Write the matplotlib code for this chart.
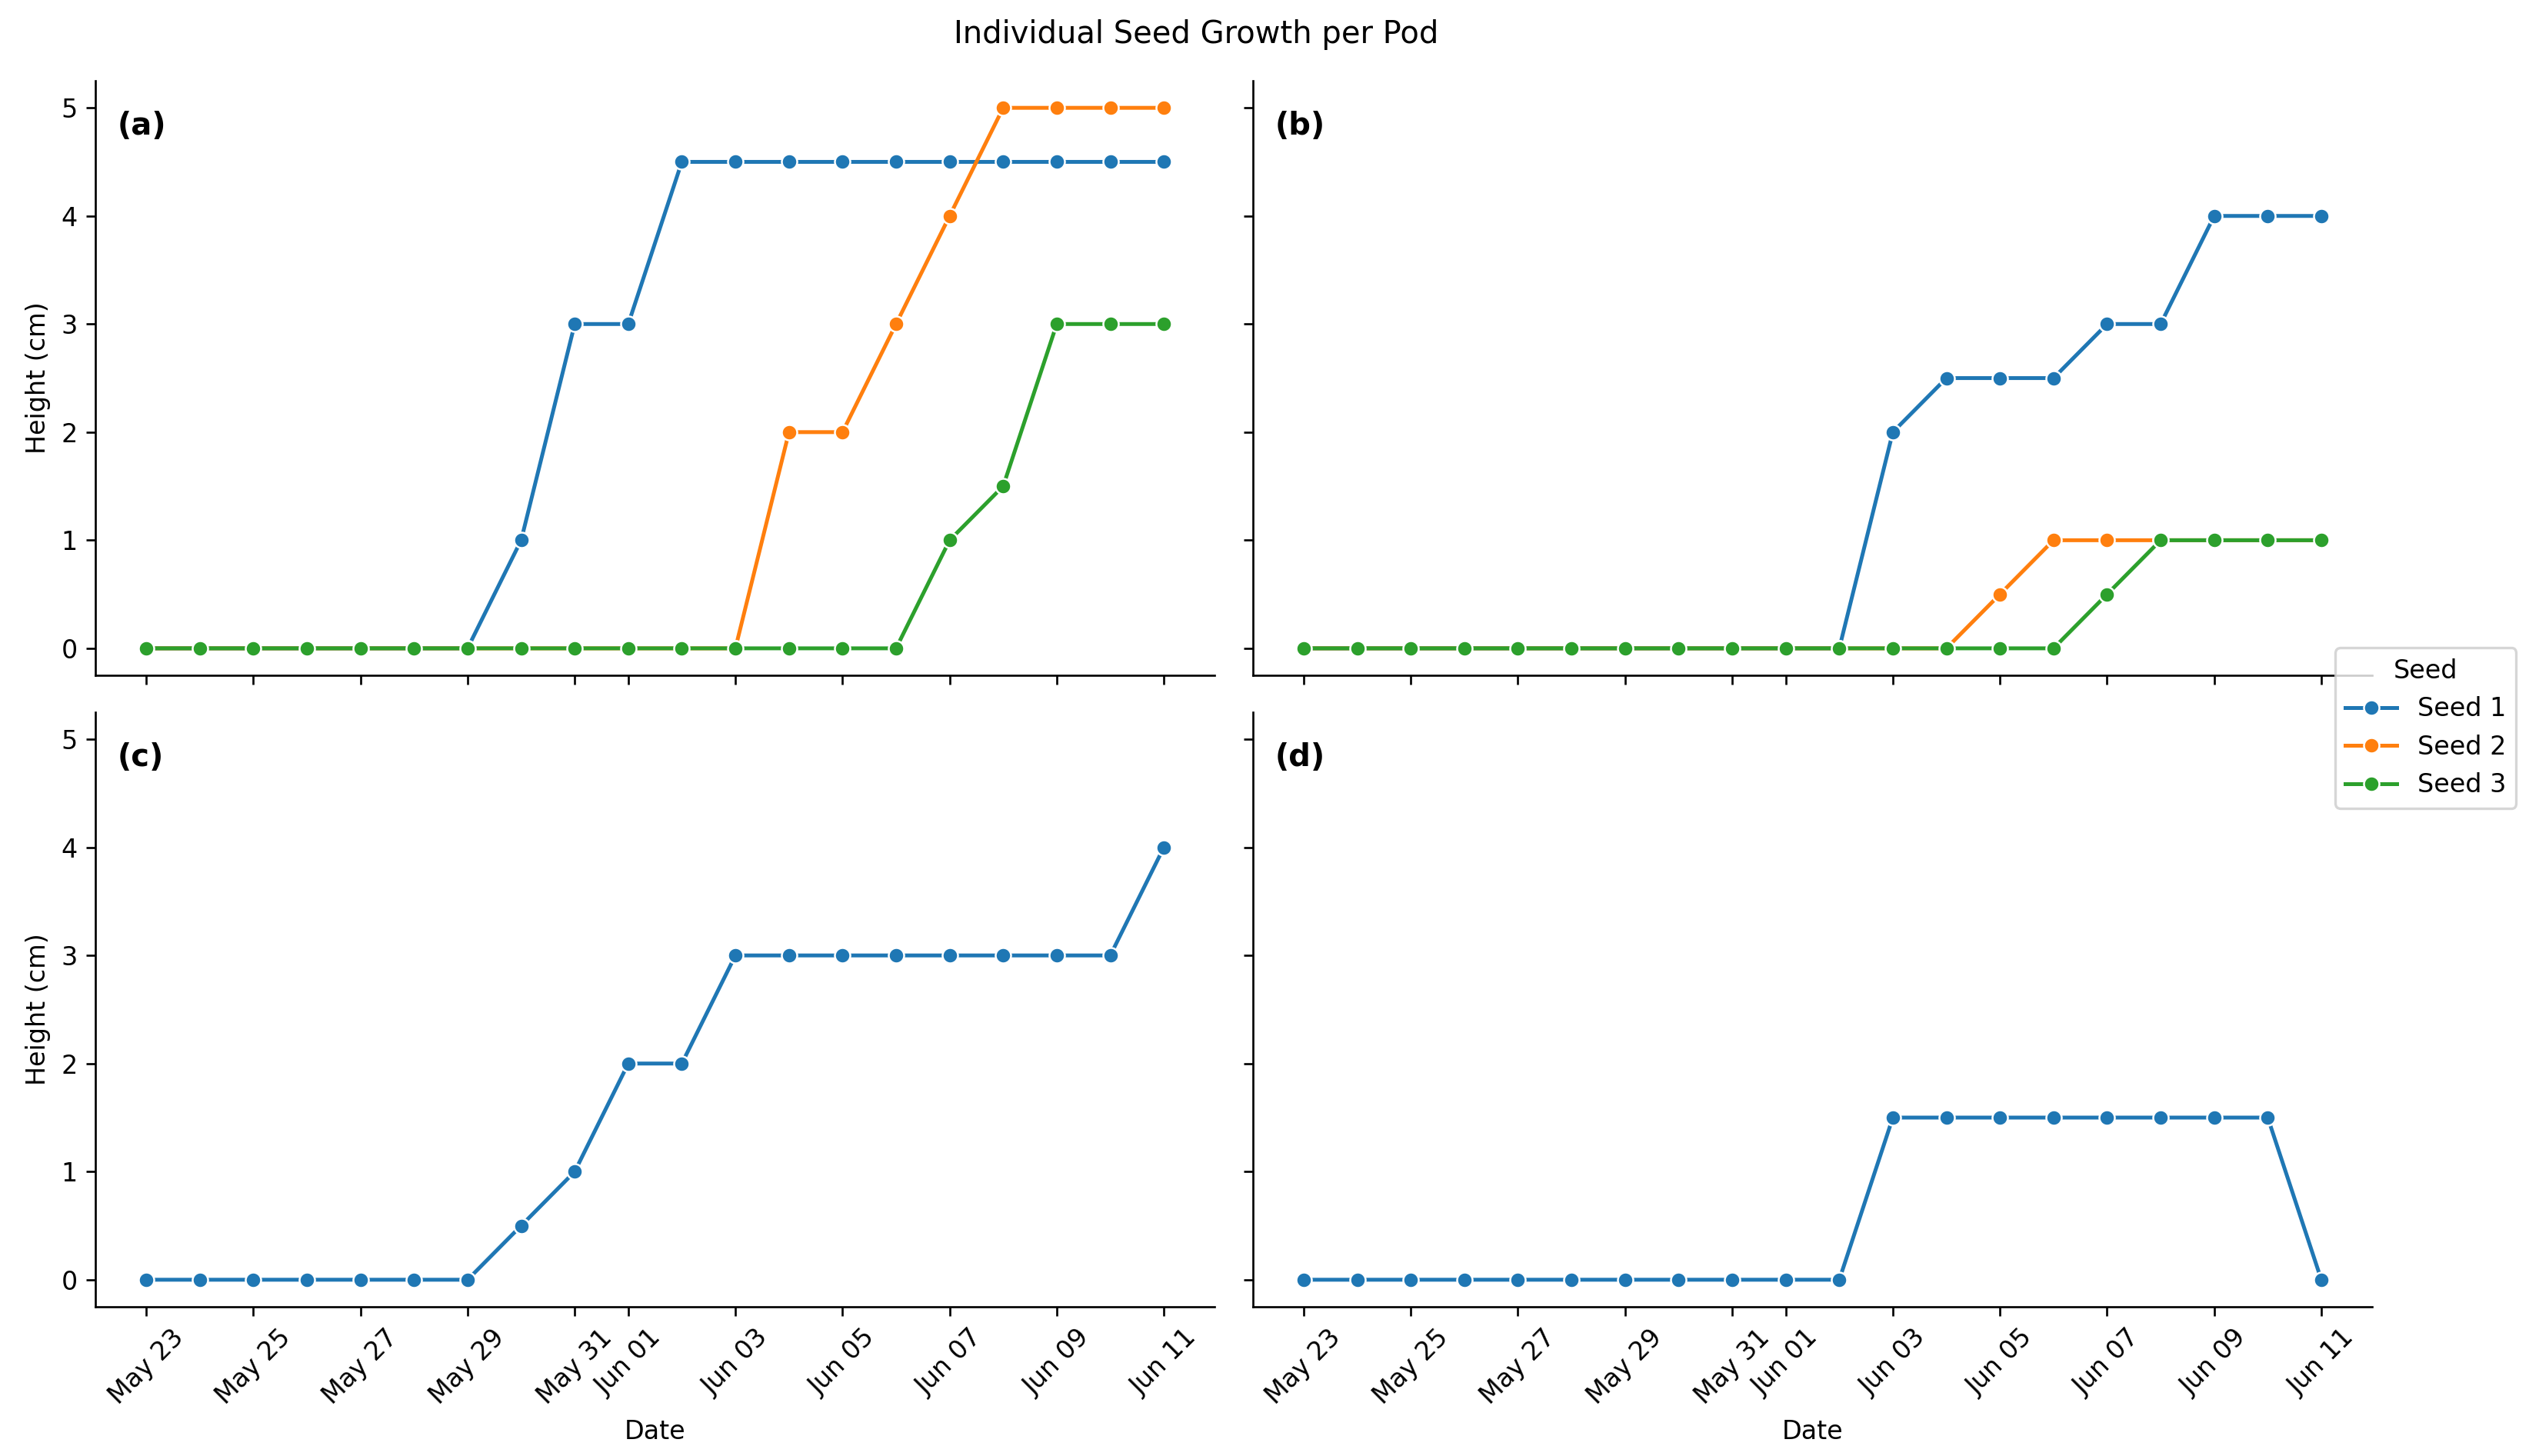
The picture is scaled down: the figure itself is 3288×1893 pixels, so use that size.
import matplotlib
matplotlib.use("Agg")
import matplotlib.pyplot as plt
import matplotlib.dates as mdates
import numpy as np
import pandas as pd

dates = pd.date_range("2024-05-23", "2024-06-11", freq="D")

# heights per pod, one list per seed (cm)
pod_a_seed1 = [0, 0, 0, 0, 0, 0, 0, 1, 3, 3, 4.5, 4.5, 4.5, 4.5, 4.5, 4.5, 4.5, 4.5, 4.5, 4.5]
pod_a_seed2 = [0, 0, 0, 0, 0, 0, 0, 0, 0, 0, 0, 0, 2, 2, 3, 4, 5, 5, 5, 5]
pod_a_seed3 = [0, 0, 0, 0, 0, 0, 0, 0, 0, 0, 0, 0, 0, 0, 0, 1, 1.5, 3, 3, 3]

pod_b_seed1 = [0, 0, 0, 0, 0, 0, 0, 0, 0, 0, 0, 2, 2.5, 2.5, 2.5, 3, 3, 4, 4, 4]
pod_b_seed2 = [0, 0, 0, 0, 0, 0, 0, 0, 0, 0, 0, 0, 0, 0.5, 1, 1, 1, 1, 1, 1]
pod_b_seed3 = [0, 0, 0, 0, 0, 0, 0, 0, 0, 0, 0, 0, 0, 0, 0, 0.5, 1, 1, 1, 1]

pod_c_seed1 = [0, 0, 0, 0, 0, 0, 0, 0.5, 1, 2, 2, 3, 3, 3, 3, 3, 3, 3, 3, 4]

pod_d_seed1 = [0, 0, 0, 0, 0, 0, 0, 0, 0, 0, 0, 1.5, 1.5, 1.5, 1.5, 1.5, 1.5, 1.5, 1.5, 0]

panels = [
    ("(a)", [pod_a_seed1, pod_a_seed2, pod_a_seed3]),
    ("(b)", [pod_b_seed1, pod_b_seed2, pod_b_seed3]),
    ("(c)", [pod_c_seed1]),
    ("(d)", [pod_d_seed1]),
]
seed_names = ["Seed 1", "Seed 2", "Seed 3"]
colors = ["#1f77b4", "#ff7f0e", "#2ca02c"]

fig, axes = plt.subplots(2, 2, figsize=(13.7, 7.8875), dpi=240, sharex=True, sharey=True)
fig.subplots_adjust(left=0.0377, right=0.938, top=0.9445, bottom=0.1025,
                    wspace=0.034, hspace=0.062)

for ax, (label, series) in zip(axes.flat, panels):
    for i, vals in enumerate(series):
        ax.plot(dates, vals, color=colors[i], marker="o", markersize=6,
                markeredgecolor="white", markeredgewidth=0.75, linewidth=1.5,
                label=seed_names[i])
    ax.text(0.02, 0.95, label, transform=ax.transAxes, fontsize=12,
            fontweight="bold", va="top", ha="left")
    for pos in ["top", "right"]:
        ax.spines[pos].set_visible(False)

axes[0, 0].xaxis.set_major_locator(mdates.DayLocator(bymonthday=range(1, 32, 2)))
axes[0, 0].xaxis.set_major_formatter(mdates.DateFormatter("%b %d"))
axes[0, 0].set_ylim(-0.25, 5.25)
axes[0, 0].set_yticks([0, 1, 2, 3, 4, 5])

for ax in axes[1]:
    ax.set_xlabel("Date")
    ax.tick_params(axis="x", labelrotation=45)
for ax in axes[:, 0]:
    ax.set_ylabel("Height (cm)")

handles, labels = axes[0, 0].get_legend_handles_labels()
fig.legend(handles, labels, title="Seed", loc="center right",
           bbox_to_anchor=(1.0, 0.5))

fig.suptitle("Individual Seed Growth per Pod", x=0.473, y=0.987, va="top")

plt.savefig("out.png", dpi=240)
